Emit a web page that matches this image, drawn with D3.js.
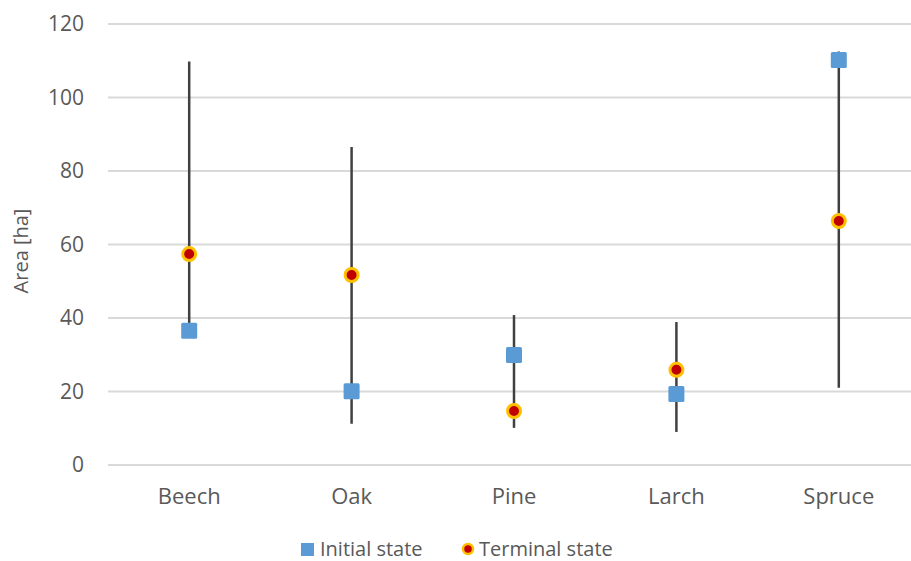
<!DOCTYPE html>
<html>
<head>
<meta charset="utf-8">
<script src="https://cdn.jsdelivr.net/npm/d3@7"></script>
<style>
  body { margin: 0; background: #fff; }
  svg text { font-family: "Open Sans", "Noto Sans", sans-serif; fill: #595959; }
</style>
</head>
<body>
<div id="chart"></div>
<script>
// Area per species, initial vs terminal state
const species = ['Beech', 'Oak', 'Pine', 'Larch', 'Spruce'];
const initialState = [36.5, 20.1, 29.9, 19.3, 110.2];
const terminalState = [57.4, 51.7, 14.7, 25.9, 66.4];
const rangeHigh = [109.8, 86.5, 40.8, 38.9, 112.5];
const rangeLow = [36.5, 11.2, 10.1, 9.0, 21.0];
const yTicks = [0, 20, 40, 60, 80, 100, 120];

const W = 911, H = 561;
const svg = d3.select('#chart').append('svg')
    .attr('width', W).attr('height', H);

const x = d3.scaleBand().domain(species).range([108, 920]);
const y = d3.scaleLinear().domain([0, 120]).range([465, 24]);
const cx = d => x(d) + x.bandwidth() / 2;

// Gridlines
svg.append('g')
    .selectAll('line')
    .data(yTicks)
    .enter()
    .append('line')
    .attr('x1', 108).attr('x2', W)
    .attr('y1', d => y(d)).attr('y2', d => y(d))
    .attr('stroke', '#d9d9d9')
    .attr('stroke-width', 2);

// Y axis labels
const yAxis = svg.append('g')
    .attr('transform', 'translate(84,0)')
    .call(d3.axisLeft(y).tickValues(yTicks).tickSize(0).tickPadding(0));
yAxis.select('.domain').remove();
yAxis.selectAll('text').style('font-size', '21px').attr('fill', '#595959');

// X axis labels
const xAxis = svg.append('g')
    .attr('transform', 'translate(0,488)')
    .call(d3.axisBottom(x).tickSize(0).tickPadding(0));
xAxis.select('.domain').remove();
xAxis.selectAll('text').style('font-size', '22px').attr('fill', '#595959');

// Axis title
svg.append('text')
    .attr('transform', 'rotate(-90)')
    .attr('x', -251).attr('y', 28)
    .attr('text-anchor', 'middle')
    .style('font-size', '20px')
    .text('Area [ha]');

// High-low lines
svg.append('g')
    .selectAll('line')
    .data(species)
    .enter()
    .append('line')
    .attr('x1', d => cx(d)).attr('x2', d => cx(d))
    .attr('y1', (d, i) => y(rangeHigh[i]))
    .attr('y2', (d, i) => y(rangeLow[i]))
    .attr('stroke', '#404040')
    .attr('stroke-width', 2.5);

// Initial state squares
svg.append('g')
    .selectAll('rect')
    .data(species)
    .enter()
    .append('rect')
    .attr('x', d => cx(d) - 8)
    .attr('y', (d, i) => y(initialState[i]) - 8)
    .attr('width', 16).attr('height', 16)
    .attr('rx', 1.5)
    .attr('fill', '#5b9bd5');

// Terminal state circles
svg.append('g')
    .selectAll('circle')
    .data(species)
    .enter()
    .append('circle')
    .attr('cx', d => cx(d))
    .attr('cy', (d, i) => y(terminalState[i]))
    .attr('r', 6.5)
    .attr('fill', '#c00000')
    .attr('stroke', '#ffc000')
    .attr('stroke-width', 3);

// Legend
const legend = svg.append('g');
legend.append('rect')
    .attr('x', 301).attr('y', 543).attr('width', 13).attr('height', 13)
    .attr('fill', '#5b9bd5');
legend.append('text')
    .attr('x', 320).attr('y', 556)
    .style('font-size', '20px')
    .text('Initial state');
legend.append('circle')
    .attr('cx', 468).attr('cy', 549).attr('r', 5)
    .attr('fill', '#c00000')
    .attr('stroke', '#ffc000').attr('stroke-width', 2.5);
legend.append('text')
    .attr('x', 479).attr('y', 556)
    .style('font-size', '20px')
    .text('Terminal state');
</script>
</body>
</html>
